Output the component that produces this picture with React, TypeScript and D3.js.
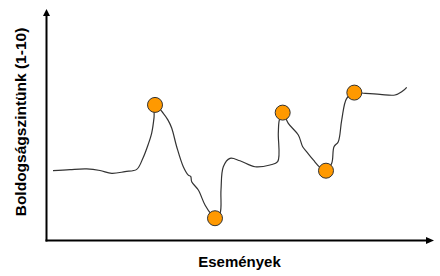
import React from "react";
import * as d3 from "d3";

// Happiness curve (x: event time 0-100, y: happiness level 0-10)
const curveX = [1.55, 5.94, 10.26, 13.7, 16.72, 20.16, 23.18, 24.81, 26.1, 27.05, 27.65, 27.91, 30.05, 31.27, 32.22, 33.51, 35.22, 36.51, 37.13, 37.39, 39.1, 40.83, 42.56, 43.41, 44.7, 44.96, 45.56, 47.29, 49.87, 53.75, 57.62, 59.61, 59.77, 60.03, 60.9, 62.35, 64.94, 66.07, 67.11, 68.81, 70.54, 72.09, 73.57, 74.16, 75.27, 76.15, 77.44, 79.41, 81.73, 86.05, 89.92, 91.65, 92.95];
const curveY = [3.15, 3.2, 3.23, 3.16, 3.03, 3.11, 3.21, 3.73, 4.32, 4.86, 5.55, 6.14, 5.76, 5.45, 5.09, 4.24, 3.33, 2.95, 2.89, 2.65, 2.27, 1.59, 1.14, 0.99, 1.21, 2.27, 3.33, 3.71, 3.6, 3.33, 3.41, 3.56, 4.86, 5.45, 5.79, 5.3, 4.77, 4.24, 4.01, 3.64, 3.3, 3.15, 3.49, 4.24, 4.47, 5.45, 6.44, 6.7, 6.67, 6.62, 6.59, 6.74, 6.94];

// Key events (orange markers)
const eventX = [27.91, 43.41, 60.9, 72.09, 79.41];
const eventY = [6.14, 0.99, 5.79, 3.15, 6.7];

const yLabel = "Boldogságszintünk (1-10)";
const xLabel = "Események";

export default function App() {
  const W = 440, H = 276;
  const x = d3.scaleLinear().domain([0, 100]).range([47, 434]);
  const y = d3.scaleLinear().domain([0, 10]).range([240, 20]);
  const pts: [number, number][] = curveX.map((v, i) => [v, curveY[i]]);
  const line = d3
    .line<[number, number]>()
    .x((d) => x(d[0]))
    .y((d) => y(d[1]))
    .curve(d3.curveCatmullRom.alpha(0.5));
  const ox = 46.5, oy = 240.5;
  const font = "'Liberation Sans', Arial, sans-serif";
  return (
    <svg
      width={W}
      height={H}
      style={{ position: "absolute", left: 0, top: 0, background: "#fff" }}
    >
      <rect width={W} height={H} fill="#fff" />
      {/* axes */}
      <line x1={ox} y1={oy + 1} x2={ox} y2={15} stroke="#000" strokeWidth={2} />
      <path d={`M${ox},9 L${ox - 3.5},16 L${ox + 3.5},16 Z`} fill="#000" />
      <line x1={ox - 1} y1={oy} x2={427} y2={oy} stroke="#000" strokeWidth={2} />
      <path d={`M434,${oy} L426,${oy - 3.5} L426,${oy + 3.5} Z`} fill="#000" />
      {/* curve */}
      <path d={line(pts) || ""} fill="none" stroke="#333" strokeWidth={1.2} />
      {/* events */}
      {eventX.map((v, i) => (
        <circle
          key={i}
          cx={x(v)}
          cy={y(eventY[i])}
          r={7.5}
          fill="#FF9900"
          stroke="#333"
          strokeWidth={1}
        />
      ))}
      {/* labels */}
      <text
        transform="translate(26,122) rotate(-90)"
        textAnchor="middle"
        fontFamily={font}
        fontWeight="bold"
        fontSize={15.5}
        fill="#000"
      >
        {yLabel}
      </text>
      <text
        x={239.5}
        y={266.5}
        textAnchor="middle"
        fontFamily={font}
        fontWeight="bold"
        fontSize={15}
        fill="#000"
      >
        {xLabel}
      </text>
    </svg>
  );
}
